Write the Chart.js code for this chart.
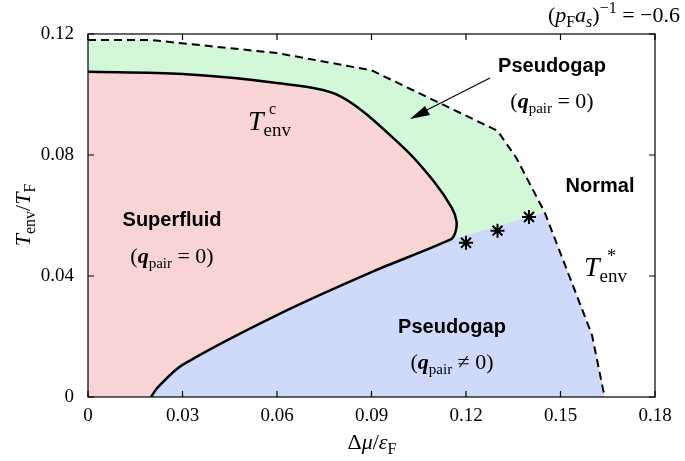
<!DOCTYPE html>
<html><head><meta charset="utf-8">
<script src="https://cdn.jsdelivr.net/npm/chart.js@4.4.0/dist/chart.umd.min.js"></script>
<style>html,body{margin:0;background:#fff}#wrap{width:685px;height:461px}</style>
</head><body><div id="wrap"><canvas id="c"></canvas></div>
<script>
// phase boundaries (x = dmu/eF, y = Tenv/TF)
const starX = [0.02, 0.06, 0.09, 0.11, 0.13, 0.136, 0.145, 0.16, 0.164];
const starY = [0.118, 0.1137, 0.108, 0.098, 0.088, 0.079, 0.061, 0.0205, 0];
const tcUpperX = [0, 0.03, 0.06, 0.08, 0.1, 0.11, 0.1155, 0.117, 0.1165, 0.115];
const tcUpperY = [0.1075, 0.1068, 0.1038, 0.0995, 0.0826, 0.071, 0.0625, 0.058, 0.054, 0.052];
const tcLowerX = [0.115, 0.09, 0.06, 0.03, 0.022, 0.02];
const tcLowerY = [0.052, 0.0413, 0.0271, 0.0106, 0.003, 0];
const markX = [0.12, 0.13, 0.14];
const markY = [0.051, 0.055, 0.0595];
const xTicks = [0, 0.03, 0.06, 0.09, 0.12, 0.15, 0.18];
const yTicks = [0, 0.04, 0.08, 0.12];

const pts = (xs, ys) => xs.map((x, i) => ({x: x, y: ys[i]}));
const star = [{x: 0, y: 0.118}].concat(pts(starX, starY));
const tcCurve = pts(tcUpperX, tcUpperY).concat(pts(tcLowerX, tcLowerY).slice(1));

const greenPoly = star.concat([{x: 0, y: 0}]);
const redPoly = tcCurve.concat([{x: 0, y: 0}]);
const bluePoly = pts(tcLowerX, tcLowerY).reverse()
    .concat([{x: 0.145, y: 0.061}])
    .concat(pts(starX.slice(7), starY.slice(7)));

const serif = '"Liberation Serif", "DejaVu Serif", serif';
const sans = '"Liberation Sans", Arial, sans-serif';

// draws pieces of text one after another: [text, font, dy]
function rich(ctx, x, y, parts, align) {
    let w = 0;
    parts.forEach(p => { ctx.font = p[1]; w += ctx.measureText(p[0]).width; });
    let cx = align === 'center' ? x - w / 2 : (align === 'right' ? x - w : x);
    ctx.textAlign = 'left';
    parts.forEach(p => {
        ctx.font = p[1];
        ctx.fillText(p[0], cx, y + (p[2] || 0));
        cx += ctx.measureText(p[0]).width;
    });
}

const decor = {
    id: 'decor',
    afterDraw(chart) {
        const ctx = chart.ctx, a = chart.chartArea;
        const xs = chart.scales.x, ys = chart.scales.y;
        ctx.save();
        ctx.strokeStyle = '#000';
        ctx.lineWidth = 1.2;
        ctx.strokeRect(a.left, a.top, a.right - a.left, a.bottom - a.top);
        ctx.beginPath();
        xTicks.forEach(v => {
            const px = xs.getPixelForValue(v);
            ctx.moveTo(px, a.bottom); ctx.lineTo(px, a.bottom - 6);
            ctx.moveTo(px, a.top); ctx.lineTo(px, a.top + 6);
        });
        yTicks.forEach(v => {
            const py = ys.getPixelForValue(v);
            ctx.moveTo(a.left, py); ctx.lineTo(a.left + 6, py);
            ctx.moveTo(a.right, py); ctx.lineTo(a.right - 6, py);
        });
        ctx.stroke();

        ctx.fillStyle = '#000';
        ctx.textBaseline = 'alphabetic';
        const it = 'italic 22px ' + serif, rm = '22px ' + serif;
        const sub = '16px ' + serif, subi = 'italic 16px ' + serif;
        const bi = 'bold italic 22px ' + serif, rm20 = '22px ' + serif;
        const sb = '15px ' + serif;

        // axis titles
        rich(ctx, 372, 449, [['Δ', rm], ['μ', it], ['/', rm], ['ε', it], ['F', sub, 5]], 'center');
        ctx.save();
        ctx.translate(30, 215);
        ctx.rotate(-Math.PI / 2);
        rich(ctx, 0, 0, [['T', it], ['env', sub, 5], ['/', rm], ['T', it], ['F', sub, 5]], 'center');
        ctx.restore();

        rich(ctx, 680, 22, [['(', rm], ['p', it], ['F', sub, 5], ['a', it], ['s', subi, 5], [')', rm], ['−1', sub, -9], [' = −0.6', rm]], 'right');

        ctx.font = 'bold 20px ' + sans;
        ctx.textAlign = 'center';
        ctx.fillText('Superfluid', 172, 226);
        ctx.fillText('Pseudogap', 552, 72);
        ctx.fillText('Pseudogap', 452, 333);
        ctx.fillText('Normal', 600, 192);

        rich(ctx, 172, 263, [['(', rm20], ['q', bi], ['pair', sb, 5], [' = 0)', rm20]], 'center');
        rich(ctx, 552, 108, [['(', rm20], ['q', bi], ['pair', sb, 5], [' = 0)', rm20]], 'center');
        rich(ctx, 452, 369, [['(', rm20], ['q', bi], ['pair', sb, 5], [' ≠ 0)', rm20]], 'center');

        rich(ctx, 248, 130, [['T', 'italic 28px ' + serif], ['env', '19px ' + serif, 6]], 'left');
        ctx.font = '16px ' + serif;
        ctx.fillText('c', 269, 114);
        rich(ctx, 584, 276, [['T', 'italic 28px ' + serif], ['env', '19px ' + serif, 6]], 'left');
        ctx.font = '18px ' + serif;
        ctx.fillText('*', 607, 262);

        // arrow to the green band
        ctx.lineWidth = 1.2;
        ctx.beginPath();
        ctx.moveTo(490, 78);
        ctx.lineTo(413, 117);
        ctx.stroke();
        ctx.beginPath();
        ctx.moveTo(410, 119); ctx.lineTo(425, 106); ctx.lineTo(430, 115);
        ctx.closePath(); ctx.fill();
        ctx.restore();
    }
};

const poly = (data, color) => ({
    data: data, showLine: true, fill: 'shape', backgroundColor: color,
    borderWidth: 0, pointRadius: 0, tension: 0
});

new Chart(document.getElementById('c'), {
    type: 'scatter',
    data: {
        datasets: [
            {data: pts(markX, markY), pointStyle: 'star', pointRadius: 7, borderWidth: 2,
             borderColor: '#000', showLine: false},
            {data: tcCurve, showLine: true, borderColor: '#000', borderWidth: 2.5,
             pointRadius: 0, tension: 0.3, fill: false},
            {data: star, showLine: true, borderColor: '#000', borderWidth: 2, borderDash: [8, 5],
             pointRadius: 0, tension: 0, fill: false},
            poly(redPoly, '#f9d4d4'),
            poly(bluePoly, '#cfdafa'),
            poly(greenPoly, '#d3f8d9')
        ]
    },
    options: {
        responsive: true,
        maintainAspectRatio: false,
        animation: false,
        layout: {padding: {top: 34, right: 30, left: 0, bottom: 0}},
        plugins: {legend: {display: false}, tooltip: {enabled: false}},
        scales: {
            x: {
                min: 0, max: 0.18,
                afterFit: s => { s.height = 64; },
                afterBuildTicks: s => { s.ticks = xTicks.map(v => ({value: v})); },
                grid: {display: false},
                border: {display: false},
                ticks: {color: '#000', font: {family: serif, size: 19}, padding: 0,
                        callback: v => v === 0 ? '0' : String(+v.toFixed(2))}
            },
            y: {
                min: 0, max: 0.12,
                afterFit: s => { s.width = 88; },
                afterBuildTicks: s => { s.ticks = yTicks.map(v => ({value: v})); },
                grid: {display: false},
                border: {display: false},
                ticks: {color: '#000', font: {family: serif, size: 19}, padding: 6,
                        callback: v => v === 0 ? '0' : String(+v.toFixed(2))}
            }
        }
    },
    plugins: [decor]
});
</script></body></html>
